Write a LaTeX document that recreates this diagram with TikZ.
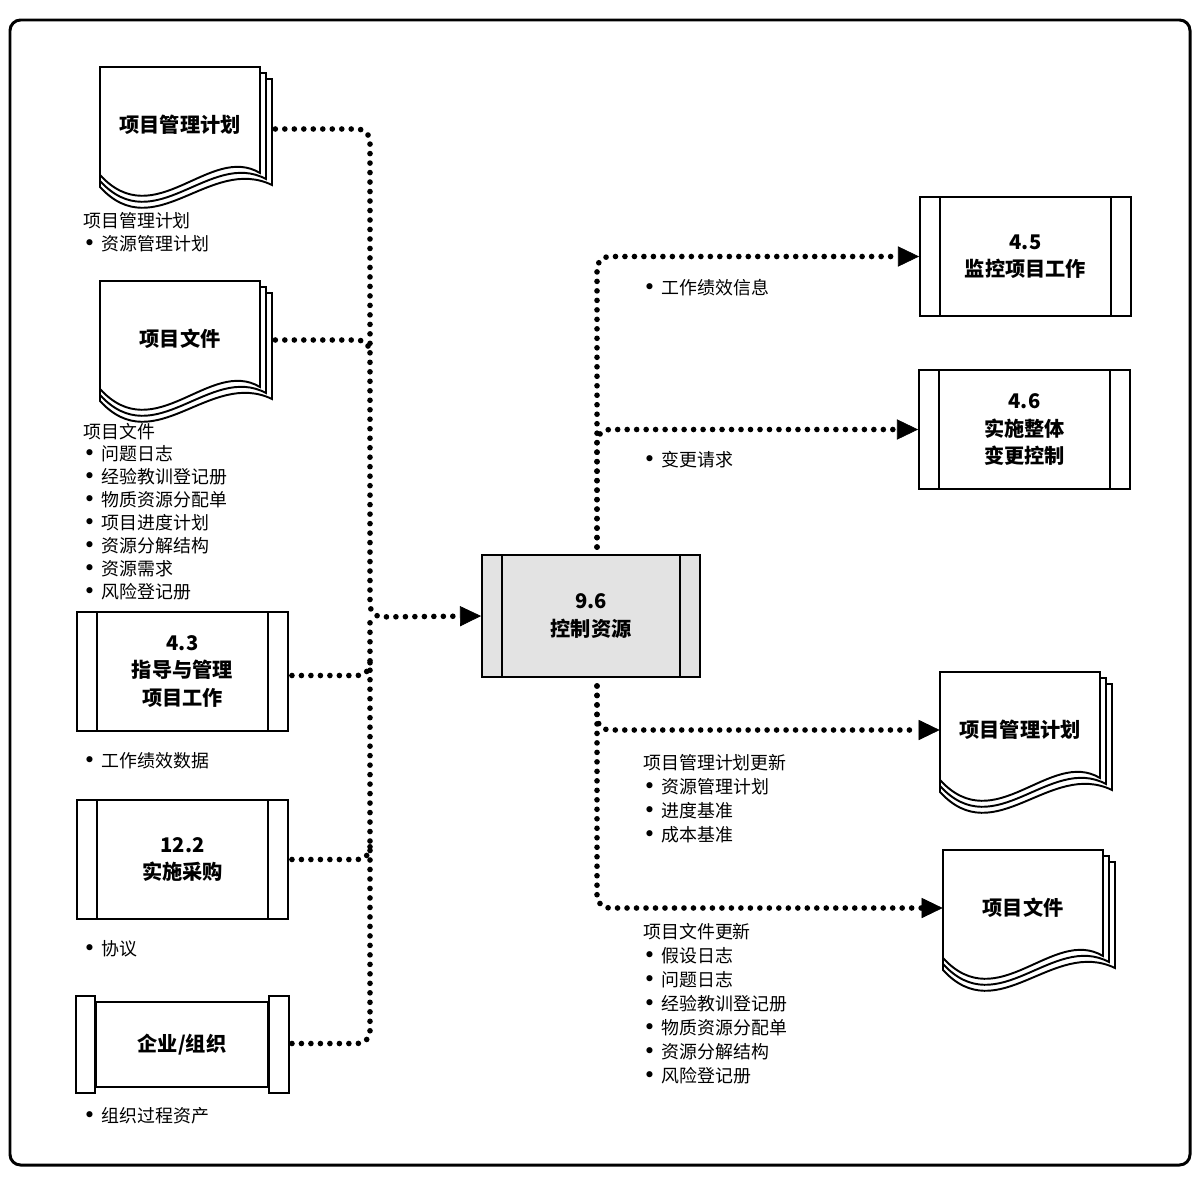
\documentclass[tikz,border=0pt]{standalone}
\usepackage{fontspec}
\setmainfont{Noto Sans CJK SC}
\newfontfamily\dotfont{DejaVu Sans}
\usetikzlibrary{arrows.meta,calc}
\newcommand{\labelfont}{\bfseries\fontsize{11.5}{15.6}\selectfont}
\newcommand{\bl}{\makebox[10.5pt][l]{\dotfont\fontsize{12}{12}\selectfont •}}
\tikzstyle{frame}=[draw,line width=1.7pt,rounded corners=6pt]
\tikzstyle{page}=[draw,fill=white,line width=1.1pt]
\tikzstyle{doc}=[minimum width=3.2cm,inner sep=0pt,font=\labelfont]
\tikzstyle{proc}=[draw,fill=white,line width=1.1pt,minimum width=4.22cm,minimum height=2.38cm,align=center,font=\labelfont,
  path picture={\draw[line width=1.1pt] ([xshift=0.4cm]path picture bounding box.north west) -- ([xshift=0.4cm]path picture bounding box.south west)
    ([xshift=-0.4cm]path picture bounding box.north east) -- ([xshift=-0.4cm]path picture bounding box.south east);}]
\tikzstyle{note}=[inner sep=0pt,align=left,anchor=base west,font=\fontsize{10.2}{13}\selectfont]
\tikzstyle{noteR}=[note,font=\fontsize{10.2}{13.6}\selectfont]
\tikzstyle{flow}=[line width=3.2pt,line cap=round,dash pattern=on 0pt off 5.4pt,rounded corners=7pt]
\tikzstyle{flowto}=[flow,-{Triangle[length=12pt,width=11.5pt,line width=0.4pt]}]
\newcommand{\pagestack}[1]{%
  \coordinate (tl) at ($(#1)+(-80,-58)$);
  \foreach \sh in {12,6,0}
    \draw[page] ($(tl)+(0,\sh)$) -- ($(tl)+(160+\sh,\sh)$) -- ($(tl)+(160+\sh,106+\sh)$)
      .. controls ($(tl)+(110,76+\sh)$) and ($(tl)+(55,168+\sh)$) .. ($(tl)+(0,108+\sh)$) -- cycle;
}
\begin{document}
\begin{tikzpicture}[x=0.02cm,y=-0.02cm]
\useasboundingbox (0,0) rectangle (1202,1176);
\draw[frame] (10,20) rectangle (1190,1165);

\pagestack{180,125}
\node[doc] (pmpIn) at (180,125) {项目管理计划};
\node[note] (pmpInNote) at (83,250) {项目管理计划\\\bl 资源管理计划};

\pagestack{180,339}
\node[doc] (pdIn) at (180,339) {项目文件};
\node[note] (pdInNote) at (83,598) {项目文件\\\bl 问题日志\\\bl 经验教训登记册\\\bl 物质资源分配单\\\bl 项目进度计划\\\bl 资源分解结构\\\bl 资源需求\\\bl 风险登记册};

\node[proc] (dirWork) at (182.5,671.5) {4.3\\指导与管理\\项目工作};
\node[note] (dirWorkNote) at (83,767) {\bl 工作绩效数据};

\node[proc] (procure) at (182.5,859.5) {12.2\\实施采购};
\node[note] (procureNote) at (83,955) {\bl 协议};

\node[draw,line width=1.1pt,minimum width=3.44cm,minimum height=1.7cm,font=\labelfont] (org) at (182,1044.5) {企业/组织};
\draw[page] ($(org.north west)+(-19,-5)$) rectangle ($(org.south west)+(0,5)$);
\draw[page] ($(org.north east)+(0,-5)$) rectangle ($(org.south east)+(20,5)$);
\node[note] (orgNote) at (83,1122) {\bl 组织过程资产};

\node[proc,fill=black!11,minimum width=4.36cm,minimum height=2.44cm] (ctrl) at (591,616) {9.6\\控制资源};

\node[proc] (monitor) at (1025.5,256.5) {4.5\\监控项目工作};
\node[noteR] (monitorNote) at (643,294) {\bl 工作绩效信息};

\node[proc] (change) at (1024.5,429.5) {4.6\\实施整体\\变更控制};
\node[noteR] (changeNote) at (643,466) {\bl 变更请求};

\pagestack{1020,730}
\node[doc] (pmpOut) at (1020,730) {项目管理计划};
\node[noteR] (pmpOutNote) at (643,841) {项目管理计划更新\\\bl 资源管理计划\\\bl 进度基准\\\bl 成本基准};

\pagestack{1023,908}
\node[doc] (pdOut) at (1023,908) {项目文件};
\node[noteR] (pdOutNote) at (643,1082) {项目文件更新\\\bl 假设日志\\\bl 问题日志\\\bl 经验教训登记册\\\bl 物质资源分配单\\\bl 资源分解结构\\\bl 风险登记册};

\coordinate (inJ) at (370,617);
\draw[flowto] ($(pmpIn.east)+(15,4)$) -| (inJ) -- (ctrl.west);
\draw[flow] ($(pdIn.east)+(15,1)$) -| ($(pdIn.east -| inJ)+(0,16)$);
\draw[flow] ($(dirWork.east)+(3,4)$) -| ($(dirWork.east -| inJ)+(0,-16)$);
\draw[flow] ($(procure.east)+(3,0)$) -| ($(procure.east -| inJ)+(0,-16)$);
\draw[flow] ($(org.east)+(23,-1)$) -| (inJ);

\coordinate (outT) at ($(ctrl.north)+(6,-7)$);
\coordinate (outB) at ($(ctrl.south)+(6,8)$);
\draw[flowto] (outT) |- (monitor.west);
\draw[flowto] (outT) |- (change.west);
\draw[flowto] (outB) |- (pmpOut.west);
\draw[flowto] (outB) |- (pdOut.west);
\end{tikzpicture}
\end{document}
